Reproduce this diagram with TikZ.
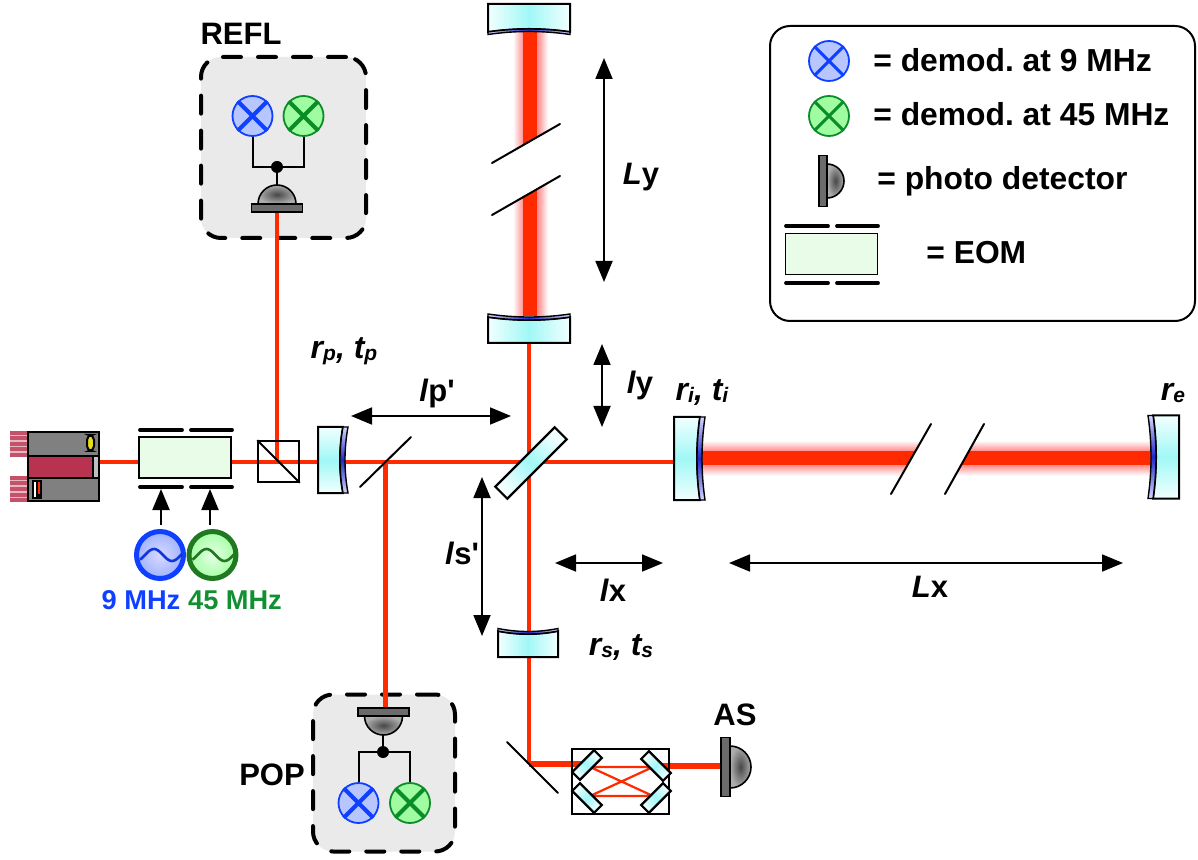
\documentclass[tikz,border=0pt]{standalone}
\usepackage{fontspec}
\setmainfont{Liberation Sans}
\newfontfamily\lsans{Liberation Sans}
\usetikzlibrary{arrows.meta,calc,shadings}
\definecolor{beamred}{HTML}{FF2A00}
\definecolor{glowred}{HTML}{FF4040}
\definecolor{mirE}{HTML}{F2FFFF}
\definecolor{mirC}{HTML}{A0F8F6}
\definecolor{coatE}{HTML}{D8D8FF}
\definecolor{coatC}{HTML}{2028C8}
\definecolor{dblue}{HTML}{1040FF}
\definecolor{dbluef}{HTML}{B8C6FF}
\definecolor{dgreen}{HTML}{0A8C28}
\definecolor{dgreenf}{HTML}{A0FCA0}
\definecolor{eomf}{HTML}{E8FCE8}
\definecolor{boxf}{HTML}{EAEAEA}
\definecolor{lasgray}{HTML}{808080}
\definecolor{lasred}{HTML}{B83350}
\definecolor{oscb}{HTML}{1040FF}
\definecolor{oscg}{HTML}{207820}
\definecolor{txtg}{HTML}{109030}
\tikzset{
 beam/.style={draw=beamred,line width=2.2pt},
 thickbeam/.style={draw=beamred,line width=2.7pt},
 thinbeam/.style={draw=beamred,line width=1.1pt},
 mirfill/.style={top color=mirE,bottom color=mirE,middle color=mirC,shading angle=#1},
 coatfill/.style={top color=coatE,bottom color=coatE,middle color=coatC,shading angle=#1},
 wire/.style={draw=black,line width=1pt},
 cutline/.style={draw=black,line width=1pt,line cap=round},
 dimarrow/.style={draw=black,line width=.9pt,{Triangle[length=10.5pt,width=8.5pt]}-{Triangle[length=10.5pt,width=8.5pt]}},
 sigarrow/.style={draw=black,line width=1pt,-{Triangle[length=10.5pt,width=8.5pt]}},
 demodb/.style={circle,draw=dblue,fill=dbluef,line width=.9pt,minimum size=20pt,inner sep=0pt},
 demodg/.style={circle,draw=dgreen,fill=dgreenf,line width=.9pt,minimum size=20pt,inner sep=0pt},
 pdbox/.style={rectangle,rounded corners=10pt,draw=black,fill=boxf,line width=2pt,line cap=round,dash pattern=on 9pt off 8.5pt,inner sep=0pt},
 eomnode/.style={rectangle,draw=black,fill=eomf,line width=1pt,minimum width=46pt,minimum height=20.5pt,inner sep=0pt},
 eombar/.style={draw=black,line width=1.9pt,line cap=round},
 oscn/.style={circle,line width=2.5pt,minimum size=23.5pt,inner sep=0pt},
 txt/.style={inner sep=0pt,font=\lsans\fontsize{15.5}{16}\selectfont\bfseries},
 freq/.style={inner sep=0pt,font=\lsans\fontsize{13.6}{14}\selectfont\bfseries},
 coef/.style={inner sep=0pt,font=\lsans\fontsize{16}{16}\selectfont\bfseries\itshape\frenchspacing},
 leg/.style={inner sep=0pt,anchor=base west,font=\lsans\fontsize{15.9}{16}\selectfont\bfseries\frenchspacing},
 junc/.style={circle,fill=black,minimum size=6pt,inner sep=0pt},
}
% concave mirror: x y rot halflength thickness edge-depth coating shade-angle
\newcommand\mirr[8]{\begin{scope}[shift={(#1,#2)},rotate=#3]
 \path[draw=black,line width=1pt,mirfill=#8] (-#4,-#5) -- (#4,-#5) -- (#4,#6) .. controls ({#4/3},{-#6/3}) and ({-#4/3},{-#6/3}) .. (-#4,#6) -- cycle;
 \path[draw=black,line width=.7pt,coatfill=#8] (#4,#6) .. controls ({#4/3},{-#6/3}) and ({-#4/3},{-#6/3}) .. (-#4,#6) -- (-#4,{#6+#7}) .. controls ({-#4/3},{#7-#6/3}) and ({#4/3},{#7-#6/3}) .. (#4,{#6+#7}) -- cycle;
\end{scope}}
% plate: x y rot halflength halfwidth shade-angle
\newcommand\slab[6]{\begin{scope}[shift={(#1,#2)},rotate=#3]
 \path[draw=black,line width=1.1pt,mirfill=#6] (-#4,-#5) rectangle (#4,#5);
\end{scope}}
% photodetector: x y rot bar-half bar-thick dome-radius
\newcommand\phd[6]{\begin{scope}[shift={(#1,#2)},rotate=#3]
 \path[draw=black,line width=.8pt,inner color=black!72,outer color=black!32] (-#6,-#5) arc[start angle=180,end angle=360,x radius=#6,y radius=#6] -- cycle;
 \path[draw=black,line width=.8pt,fill=black!58] (-#4,-#5) rectangle (#4,0);
\end{scope}}
\newcommand\crossin[3]{\draw[#2,line width=#3,line cap=butt] (#1.45) -- (#1.225) (#1.135) -- (#1.315);}
\newcommand\rt[2]{#1\raisebox{-1pt}{\fontsize{10.5}{11}\selectfont #2}}
\begin{document}
\begin{tikzpicture}[x=0.5pt,y=-0.5pt]
\useasboundingbox (0,0) rectangle (1198,860);
% grey boxes
\node[pdbox,minimum width=82.5pt,minimum height=90.5pt] (reflbox) at (283.5,147.5) {};
\node[pdbox,minimum width=71pt,minimum height=78.5pt] (popbox) at (384,773) {};
\node[txt] (refl) at (241,34) {REFL};
\node[txt] (popl) at (272,775) {POP};
\node[txt] (asl) at (735,715) {AS};
% named points
\coordinate (laserout) at (99,462);
\coordinate (pbsC) at (277,462);
\coordinate (reflpd) at (277,212);
\coordinate (popC) at (385.5,462);
\coordinate (poppd) at (385.5,708);
\coordinate (bsC) at (529,462);
\coordinate (itmC) at (680,462);
\coordinate (ymir) at (529,330);
\coordinate (rsC) at (529,640);
\coordinate (fold) at (529,764);
\coordinate (omcin) at (585,764);
\coordinate (omcout) at (660,766);
\coordinate (aspd) at (721,766);
% fat beams
\begin{scope}
 \clip (492,30) -- (560,30) -- (560,124) -- (492,163) -- cycle;
 \path[top color=white,bottom color=white,middle color=glowred,shading angle=90] (513,30) rectangle (548,165);
 \fill[beamred] (523,30) rectangle (537,165);
\end{scope}
\begin{scope}
 \clip (492,215) -- (560,176) -- (560,316) -- (492,316) -- cycle;
 \path[top color=white,bottom color=white,middle color=glowred,shading angle=90] (513,170) rectangle (548,316);
 \fill[beamred] (523,170) rectangle (537,316);
\end{scope}
\begin{scope}
 \clip (700,424) -- (931,424) -- (891,494) -- (700,494) -- cycle;
 \path[top color=white,bottom color=white,middle color=glowred] (700,440.5) rectangle (935,475.5);
 \fill[beamred] (700,451) rectangle (935,465);
\end{scope}
\begin{scope}
 \clip (984,424) -- (1152,424) -- (1152,494) -- (945,494) -- cycle;
 \path[top color=white,bottom color=white,middle color=glowred] (940,440.5) rectangle (1152,475.5);
 \fill[beamred] (940,451) rectangle (1152,465);
\end{scope}
% thin beams
\draw[beam] (laserout) -- (pbsC) -- (popC) -- (bsC) -- (itmC);
\draw[beam] (pbsC) -- (reflpd);
\draw[beam] (popC) -- (poppd);
\draw[beam] (ymir) -- (bsC) -- (rsC) -- (fold);
\draw[thickbeam] (fold) -- (omcin);
\draw[thickbeam] (omcout) -- (aspd);
% cut marks
\draw[cutline] (492,163) -- (560,124);
\draw[cutline] (492,215) -- (560,176);
\draw[cutline] (891,494) -- (931,424);
\draw[cutline] (945,494) -- (984,424);
% mirrors
\mirr{529}{29}{0}{41}{25}{3}{2.5}{90}
\mirr{529}{320}{180}{41}{23}{3}{3}{90}
\mirr{340}{460}{90}{33}{22}{3}{5}{0}
\mirr{697}{458.5}{90}{41.5}{23}{3}{5}{0}
\mirr{1156}{457}{-90}{41.5}{23}{3}{5}{0}
\mirr{528}{634}{180}{30}{23}{3}{2.5}{90}
\slab{531}{463}{45}{42}{8.5}{-45}
% pick-off and steering mirrors
\coordinate (pickA) at (360,487);
\coordinate (pickB) at (411,437);
\draw[cutline] (pickA) -- (pickB);
\coordinate (foldA) at (507,742);
\coordinate (foldB) at (558,793);
\draw[cutline] (foldA) -- (foldB);
% laser
\fill[lasred!35] (10,431) rectangle (28,457);
\fill[lasred!35] (10,476) rectangle (28,502);
\foreach \yy in {431,436.5,442,447.5,453,476,481.5,487,492.5,498}{\fill[lasred!85] (10,\yy) rectangle (28,\yy+4);}
\node[rectangle,draw=black,fill=lasgray,line width=1pt,minimum width=35.5pt,minimum height=34.5pt,inner sep=0pt] (laser) at (63.5,466.5) {};
\path[draw=black,line width=1pt,fill=lasred] (28,456) rectangle (99,478);
\path[draw=black,line width=.6pt,fill=black!25] (93,456) rectangle (99,478);
\path[draw=black,line width=1pt,fill=yellow!90!black,rounded corners=2.5pt] (87,435) rectangle (94,451);
\path[fill=black] (32,480) rectangle (42,499);
\path[fill=white] (33.5,482) rectangle (36,497);
\path[fill=beamred] (37.5,482) rectangle (40,494);
% EOM
\node[eomnode] (eom) at (185,458) {};
\draw[eombar] (140,430) -- (182,430);
\draw[eombar] (191,430) -- (232,430);
\draw[eombar] (140,487) -- (182,487);
\draw[eombar] (191,487) -- (232,487);
% oscillators
\node[oscn,draw=oscb,inner color=white!85!blue,outer color=oscb!40!white] (osca) at (160,555) {};
\node[oscn,draw=oscg,inner color=white!90!green,outer color=green!35!white] (oscb) at (212.5,555) {};
\draw[oscb!85!black,line width=1.3pt] plot[domain=-20:22,samples=30,smooth] ({160+\x},{555-6*cos((\x+6)*10)});
\draw[oscg,line width=1.3pt] plot[domain=-20:22,samples=30,smooth] ({212.5+\x},{555-6*cos((\x+6)*10)});
\coordinate (sa) at (161,525);
\coordinate (sb) at (210,525);
\coordinate (ea) at (161,489);
\coordinate (eb) at (210,489);
\draw[sigarrow] (sa) -- (ea);
\draw[sigarrow] (sb) -- (eb);
\node[freq,text=dblue] (n9) at (141,600) {9 MHz};
\node[freq,text=txtg] (n45) at (235,600) {45 MHz};
% PBS
\node[rectangle,draw=black,line width=1pt,minimum size=20.3pt,inner sep=0pt] (pbs) at (278.5,461.5) {};
\draw[line width=.9pt] (pbs.north west) -- (pbs.south east);
% REFL detector
\node[demodb] (rd1) at (252.5,116) {};
\node[demodg] (rd2) at (303.5,116) {};
\crossin{rd1}{dblue}{2pt}
\crossin{rd2}{dgreen}{2pt}
\node[junc] (rj) at (277,167) {};
\coordinate (rpdtop) at (277,186);
\draw[wire] (rd1.south) |- (rj);
\draw[wire] (rd2.south) |- (rj);
\draw[wire] (rj) -- (rpdtop);
\phd{277}{212}{0}{25.5}{8}{19}
% POP detector
\node[demodb] (pd1) at (358.5,803) {};
\node[demodg] (pd2) at (410,803) {};
\crossin{pd1}{dblue}{2pt}
\crossin{pd2}{dgreen}{2pt}
\node[junc] (pj) at (383,752) {};
\coordinate (ppdbot) at (383,733);
\draw[wire] (pd1.north) |- (pj);
\draw[wire] (pd2.north) |- (pj);
\draw[wire] (pj) -- (ppdbot);
\phd{383.5}{708}{180}{25.5}{8}{19}
% OMC
\node[rectangle,draw=black,line width=.9pt,minimum width=48.5pt,minimum height=32.5pt,inner sep=0pt] (omc) at (620.5,781.5) {};
\coordinate (m1) at (590,767);
\coordinate (m2) at (653,767);
\coordinate (m3) at (590,796);
\coordinate (m4) at (653,796);
\draw[thinbeam] (m1) -- (m2) -- (m3) -- (m4) -- (m1);
\slab{587}{765}{45}{15.5}{5.5}{-45}
\slab{656}{766}{-45}{15.5}{5.5}{45}
\slab{587}{798}{-45}{15.5}{5.5}{45}
\slab{656}{798}{45}{15.5}{5.5}{-45}
\phd{721}{767}{-90}{29.5}{9}{21}
% dimension arrows
\coordinate (Ly1) at (604,58); \coordinate (Ly2) at (604,282);
\coordinate (ly1) at (602,344); \coordinate (ly2) at (602,427);
\coordinate (lp1) at (351,416); \coordinate (lp2) at (511,416);
\coordinate (ls1) at (482,477); \coordinate (ls2) at (482,636);
\coordinate (lx1) at (555,563); \coordinate (lx2) at (663,563);
\coordinate (Lx1) at (729,563); \coordinate (Lx2) at (1123,563);
\draw[dimarrow] (Ly1) -- (Ly2);
\draw[dimarrow] (ly1) -- (ly2);
\draw[dimarrow] (lp1) -- (lp2);
\draw[dimarrow] (ls1) -- (ls2);
\draw[dimarrow] (lx1) -- (lx2);
\draw[dimarrow] (Lx1) -- (Lx2);
\node[txt] (tLy) at (641,177) {\textit{L}y};
\node[txt] (tly) at (640,385) {\textit{l}y};
\node[txt] (tlp) at (437,393) {\textit{l}p'};
\node[txt] (tls) at (462,553) {\textit{l}s'};
\node[txt] (tlx) at (613,590) {\textit{l}x};
\node[txt] (tLx) at (930,587) {\textit{L}x};
\node[coef] (trp) at (344,351) {\rt{r}{p}, \rt{t}{p}};
\node[coef] (tri) at (702,393) {\rt{r}{i}, \rt{t}{i}};
\node[coef] (tre) at (1173,393) {\rt{r}{e}};
\node[coef] (trs) at (621,648) {\rt{r}{s}, \rt{t}{s}};
% legend
\node[rectangle,rounded corners=10pt,draw=black,line width=1pt,minimum width=212.5pt,minimum height=147.5pt,inner sep=0pt] (legend) at (982.5,173.5) {};
\node[demodb] (l1) at (829,61) {};
\node[demodg] (l2) at (829,116) {};
\crossin{l1}{dblue}{1.5pt}
\crossin{l2}{dgreen}{1.5pt}
\node[leg] (lt1) at (873,72) {= demod. at 9 MHz};
\node[leg] (lt2) at (873,126) {= demod. at 45 MHz};
\phd{819}{181}{-90}{25.5}{8}{17}
\node[leg] (lt3) at (877,190) {= photo detector};
\node[eomnode,line width=.9pt] (leom) at (831.5,254) {};
\draw[eombar] (786,226) -- (828,226);
\draw[eombar] (837,226) -- (878,226);
\draw[eombar] (786,283) -- (828,283);
\draw[eombar] (837,283) -- (878,283);
\node[leg] (lt4) at (926,264) {= EOM};
\end{tikzpicture}
\end{document}
